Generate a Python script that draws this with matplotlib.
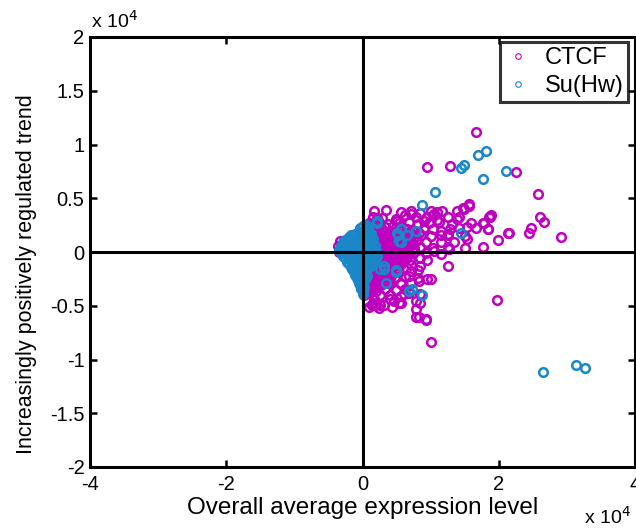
import matplotlib
matplotlib.use("Agg")
import matplotlib.pyplot as plt
from matplotlib.lines import Line2D

plt.rcParams['font.family'] = ['Liberation Sans', 'DejaVu Sans']

# values in units of 10^4
series_names = ["CTCF", "Su(Hw)"]
x_ticks = [-4, -2, 0, 2, 4]
y_ticks = [-2, -1.5, -1, -0.5, 0, 0.5, 1, 1.5, 2]
y_tick_labels = ["-2", "-1.5", "-1", "-0.5", "0", "0.5", "1", "1.5", "2"]

ctcf_points = [
    # dense core, rows
    (0.17, 0.38), (0.34, 0.39), (0.56, 0.37), (0.71, 0.38), (0.85, 0.36), (1.00, 0.38), (1.09, 0.37),
    (1.17, 0.38), (1.38, 0.38), (1.49, 0.40), (1.56, 0.43),
    (0.15, 0.33), (0.29, 0.32), (0.49, 0.31), (0.63, 0.34), (0.78, 0.33), (0.93, 0.32), (1.03, 0.34),
    (1.26, 0.33), (1.41, 0.33), (1.86, 0.33),
    (0.09, 0.27), (0.24, 0.28), (0.38, 0.26), (0.53, 0.27), (0.68, 0.28), (0.82, 0.26), (0.97, 0.27),
    (1.12, 0.28), (1.32, 0.26), (1.59, 0.27), (1.78, 0.27),
    (0.12, 0.24), (0.21, 0.24), (0.33, 0.23), (0.45, 0.24),
    (0.06, 0.21), (0.18, 0.22), (0.29, 0.21), (0.41, 0.20), (0.53, 0.22), (0.65, 0.21), (0.76, 0.20),
    (0.90, 0.22), (1.03, 0.21), (1.15, 0.20), (1.29, 0.21), (1.41, 0.22), (1.54, 0.23), (1.66, 0.22),
    (1.84, 0.21), (2.13, 0.18),
    (0.09, 0.18), (0.16, 0.19), (0.24, 0.18), (0.32, 0.19), (0.39, 0.18), (0.47, 0.19), (0.61, 0.18),
    (0.69, 0.19), (0.83, 0.18),
    (0.06, 0.16), (0.13, 0.15), (0.21, 0.16), (0.28, 0.17), (0.35, 0.15), (0.43, 0.16), (0.50, 0.16),
    (0.57, 0.15), (0.65, 0.17), (0.72, 0.16), (0.79, 0.15), (0.86, 0.16), (1.00, 0.15), (1.15, 0.16),
    (1.25, 0.16), (1.51, 0.15),
    (0.10, 0.13), (0.17, 0.13), (0.24, 0.12), (0.31, 0.13), (0.38, 0.13), (0.45, 0.12), (0.52, 0.13),
    (0.60, 0.13), (0.68, 0.12), (0.75, 0.13),
    (0.06, 0.10), (0.13, 0.11), (0.20, 0.10), (0.27, 0.09), (0.34, 0.10), (0.41, 0.11), (0.48, 0.10),
    (0.55, 0.09), (0.62, 0.10), (0.69, 0.11), (0.78, 0.10), (0.93, 0.09), (1.15, 0.09), (1.34, 0.09),
    (1.54, 0.12), (1.99, 0.11),
    (0.10, 0.07), (0.17, 0.08), (0.24, 0.07), (0.31, 0.08), (0.38, 0.07), (0.45, 0.08), (0.52, 0.07),
    (0.59, 0.08), (0.66, 0.07), (0.73, 0.08),
    (0.06, 0.05), (0.13, 0.04), (0.20, 0.05), (0.27, 0.06), (0.34, 0.04), (0.41, 0.05), (0.48, 0.05),
    (0.55, 0.04), (0.62, 0.05), (0.69, 0.06), (0.76, 0.04), (0.85, 0.05), (1.04, 0.04), (1.26, 0.05),
    (1.51, 0.04), (1.77, 0.05),
    (0.09, 0.02), (0.16, 0.02), (0.23, 0.03), (0.30, 0.02), (0.37, 0.02), (0.44, 0.03), (0.51, 0.02),
    (0.58, 0.02), (0.65, 0.03), (0.72, 0.02),
    (0.12, -0.01), (0.19, 0.00), (0.26, -0.01), (0.33, -0.02), (0.40, -0.01), (0.47, 0.00), (0.54, -0.01),
    (0.61, -0.02), (0.68, -0.01), (0.75, 0.00), (0.93, -0.01), (1.05, 0.01), (1.15, -0.02),
    (0.09, -0.04), (0.16, -0.04), (0.23, -0.05), (0.30, -0.04), (0.37, -0.04), (0.44, -0.05), (0.51, -0.04),
    (0.58, -0.04), (0.65, -0.05),
    (0.12, -0.07), (0.19, -0.06), (0.26, -0.07), (0.33, -0.08), (0.40, -0.07), (0.47, -0.06), (0.54, -0.07),
    (0.61, -0.08), (0.70, -0.07), (0.85, -0.06), (0.95, -0.07),
    (0.06, -0.10), (0.13, -0.09), (0.20, -0.10), (0.27, -0.09), (0.34, -0.10), (0.41, -0.09), (0.48, -0.10),
    (0.55, -0.09),
    (0.09, -0.12), (0.16, -0.13), (0.23, -0.12), (0.30, -0.11), (0.37, -0.12), (0.44, -0.13), (0.51, -0.12),
    (0.56, -0.11), (0.71, -0.12), (0.85, -0.13), (1.25, -0.13),
    (0.03, -0.15), (0.09, -0.15), (0.16, -0.16), (0.23, -0.15), (0.30, -0.15), (0.37, -0.16), (0.44, -0.15),
    (0.50, -0.15),
    (0.05, -0.18), (0.12, -0.17), (0.19, -0.18), (0.26, -0.19), (0.33, -0.18), (0.40, -0.17), (0.47, -0.18),
    (0.53, -0.19), (0.71, -0.18), (0.82, -0.17),
    (0.03, -0.20), (0.09, -0.21), (0.16, -0.20), (0.23, -0.21), (0.30, -0.20), (0.37, -0.21), (0.44, -0.20),
    (0.05, -0.23), (0.12, -0.24), (0.19, -0.23), (0.26, -0.22), (0.33, -0.23), (0.40, -0.24), (0.47, -0.23),
    (0.63, -0.22), (0.82, -0.24), (1.00, -0.25), (0.95, -0.25), (0.83, -0.27), (0.68, -0.22),
    (0.03, -0.26), (0.09, -0.26), (0.16, -0.27), (0.23, -0.26), (0.30, -0.26), (0.37, -0.25),
    (0.02, -0.29), (0.09, -0.28), (0.16, -0.29), (0.23, -0.30), (0.30, -0.29), (0.37, -0.28), (0.41, -0.29),
    (0.56, -0.30), (0.71, -0.29),
    (0.05, -0.32), (0.12, -0.31), (0.19, -0.32), (0.27, -0.31),
    (0.02, -0.34), (0.09, -0.35), (0.16, -0.34), (0.23, -0.33), (0.33, -0.34), (0.49, -0.35), (0.63, -0.34),
    (0.05, -0.37), (0.12, -0.37), (0.20, -0.36),
    (0.02, -0.40), (0.09, -0.38), (0.16, -0.41), (0.26, -0.40), (0.41, -0.40), (0.56, -0.41), (0.85, -0.39),
    (0.61, -0.39), (0.68, -0.38), (0.17, -0.44), (0.07, -0.38),
    (0.06, -0.46), (0.15, -0.47), (0.26, -0.49), (0.41, -0.44), (0.46, -0.46), (0.53, -0.47), (0.79, -0.46),
    (0.14, -0.49), (0.19, -0.49), (0.31, -0.49), (0.56, -0.47), (0.85, -0.47),
    (0.09, -0.51), (0.24, -0.52), (0.44, -0.51), (0.79, -0.53),
    (0.79, -0.60), (0.83, -0.60), (0.93, -0.62), (0.93, -0.63), (1.01, -0.84),
    # left of the y axis
    (-0.36, 0.06), (-0.35, 0.00), (-0.33, 0.10),
    # scattered rings
    (1.67, 1.12), (1.28, 0.80), (0.95, 0.79), (2.26, 0.74), (2.58, 0.54), (2.61, 0.33), (2.66, 0.28),
    (2.47, 0.22), (2.45, 0.18), (2.92, 0.14), (2.15, 0.18), (1.87, 0.33), (1.89, 0.34), (1.84, 0.21),
    (1.77, 0.27), (1.57, 0.45), (1.48, 0.41), (1.39, 0.31), (1.25, 0.17), (1.97, -0.45), (1.27, 0.03),
    (1.05, 0.35), (1.10, 0.30), (0.71, 0.35), (0.51, 0.29), (0.22, 0.32), (0.90, 0.29),
]

suhw_points = [
    # dense core, rows
    (0.00, 0.24), (0.05, 0.25),
    (-0.03, 0.22), (0.03, 0.21), (0.08, 0.22),
    (-0.05, 0.19), (0.00, 0.20), (0.05, 0.19), (0.10, 0.18),
    (-0.17, 0.16), (-0.11, 0.17), (-0.05, 0.16), (0.01, 0.17), (0.07, 0.16), (0.12, 0.17),
    (-0.20, 0.14), (-0.14, 0.15), (-0.08, 0.14), (-0.02, 0.13), (0.04, 0.14), (0.10, 0.15), (0.13, 0.13),
    (-0.26, 0.11), (-0.20, 0.12), (-0.14, 0.11), (-0.08, 0.12), (-0.02, 0.11), (0.04, 0.12), (0.10, 0.11),
    (0.15, 0.12),
    (-0.29, 0.09), (-0.23, 0.10), (-0.17, 0.09), (-0.11, 0.08), (-0.05, 0.09), (0.01, 0.10), (0.07, 0.09),
    (0.13, 0.08),
    (-0.31, 0.06), (-0.23, 0.07), (-0.17, 0.06), (-0.11, 0.07), (-0.05, 0.06), (0.01, 0.07), (0.07, 0.06),
    (0.13, 0.07), (0.18, 0.06),
    (-0.32, 0.04), (-0.26, 0.05), (-0.20, 0.04), (-0.14, 0.03), (-0.08, 0.04), (-0.02, 0.05), (0.04, 0.04),
    (0.10, 0.03), (0.16, 0.04),
    (-0.34, 0.02), (-0.28, 0.01), (-0.22, 0.02), (-0.16, 0.01), (-0.10, 0.02), (-0.04, 0.01), (0.02, 0.02),
    (0.08, 0.01), (0.14, 0.02), (0.20, 0.01),
    (-0.31, -0.01), (-0.25, 0.00), (-0.19, -0.01), (-0.13, -0.02), (-0.07, -0.01), (-0.01, 0.00),
    (0.05, -0.01), (0.11, -0.02), (0.17, -0.01),
    (-0.28, -0.04), (-0.22, -0.03), (-0.16, -0.04), (-0.10, -0.03), (-0.04, -0.04), (0.02, -0.03),
    (0.08, -0.04), (0.14, -0.03), (0.22, -0.04),
    (-0.25, -0.06), (-0.19, -0.05), (-0.13, -0.06), (-0.07, -0.07), (-0.01, -0.06), (0.05, -0.05),
    (0.11, -0.06), (0.17, -0.07), (0.20, -0.06),
    (-0.23, -0.09), (-0.17, -0.08), (-0.11, -0.09), (-0.05, -0.08), (0.01, -0.09), (0.07, -0.08),
    (0.13, -0.09), (0.19, -0.08),
    (-0.20, -0.11), (-0.14, -0.12), (-0.08, -0.11), (-0.02, -0.10), (0.04, -0.11), (0.10, -0.12),
    (0.15, -0.11),
    (-0.17, -0.14), (-0.11, -0.13), (-0.05, -0.14), (0.01, -0.13), (0.07, -0.14), (0.12, -0.13),
    (-0.15, -0.16), (-0.09, -0.17), (-0.03, -0.16), (0.03, -0.15), (0.07, -0.16),
    (-0.13, -0.19), (-0.07, -0.18), (-0.01, -0.19), (0.05, -0.18),
    (-0.11, -0.21), (-0.05, -0.22), (0.01, -0.21), (0.05, -0.20),
    (-0.08, -0.24), (-0.02, -0.23), (0.04, -0.24),
    (-0.06, -0.26), (0.00, -0.27), (0.03, -0.25),
    (-0.05, -0.29), (0.01, -0.28),
    (-0.03, -0.31), (0.01, -0.32),
    (-0.02, -0.34), (0.02, -0.33),
    (0.00, -0.36), (0.00, -0.39),
    # scattered rings
    (0.22, 0.27), (0.22, 0.29), (0.56, 0.21), (0.52, 0.16), (0.51, 0.18), (0.66, 0.16), (0.78, 0.20),
    (0.56, 0.09), (0.54, 0.10), (0.87, 0.44), (1.06, 0.56), (1.44, 0.18),
    (0.34, -0.29), (0.49, -0.17), (0.49, -0.19), (0.31, -0.13), (0.31, -0.16), (0.07, -0.22),
    (0.26, -0.16), (0.68, -0.36), (0.73, -0.34), (0.88, -0.40),
    (1.45, 0.78), (1.49, 0.81), (1.70, 0.90), (1.81, 0.94), (2.10, 0.75), (1.77, 0.68),
    (2.65, -1.12), (3.14, -1.05), (3.26, -1.08),
]

ctcf_x = [p[0] for p in ctcf_points]
ctcf_y = [p[1] for p in ctcf_points]
suhw_x = [p[0] for p in suhw_points]
suhw_y = [p[1] for p in suhw_points]

c_ctcf = '#BF00BF'
c_suhw = '#1A87C8'

fig = plt.figure(figsize=(6.36, 5.29), dpi=100)
ax = fig.add_axes([90/636, 1-467/529, 545/636, 430/529])

ax.plot(ctcf_x, ctcf_y, 'o', ls='none', mfc='none', mec=c_ctcf, ms=6.2, mew=1.8, zorder=3)
ax.plot(suhw_x, suhw_y, 'o', ls='none', mfc='none', mec=c_suhw, ms=6.2, mew=1.8, zorder=4)

ax.axhline(0, color='black', lw=2.2, zorder=5)
ax.axvline(0, color='black', lw=2.2, zorder=5)

ax.set_xlim(-4, 4)
ax.set_ylim(-2, 2)
ax.set_xticks(x_ticks)
ax.set_xticklabels([str(t) for t in x_ticks])
ax.set_yticks(y_ticks)
ax.set_yticklabels(y_tick_labels)
ax.tick_params(direction='in', length=5, width=1.8, labelsize=14.5, top=True, right=True)
ax.tick_params(axis='x', pad=6)
ax.tick_params(axis='y', pad=4)
for s in ax.spines.values():
    s.set_linewidth(2.2)

ax.set_xlabel('Overall average expression level', fontsize=17.5)
ax.xaxis.set_label_coords(0.5, -0.07)
ax.set_ylabel('Increasingly positively regulated trend', fontsize=15.5)
ax.yaxis.set_label_coords(-0.097, 0.449)

fig.text(91/636, 1-28/529, r'x 10$^{4}$', fontsize=14, ha='left', va='baseline')
fig.text(584/636, 1-524/529, r'x 10$^{4}$', fontsize=14, ha='left', va='baseline')

handles = [Line2D([], [], marker='o', ls='none', mfc='none', mec=c_ctcf, ms=4, mew=0.8),
           Line2D([], [], marker='o', ls='none', mfc='none', mec=c_suhw, ms=4, mew=0.8)]
leg = ax.legend(handles, series_names, loc='upper right', bbox_to_anchor=(0.988, 0.988),
                fontsize=17, frameon=True, fancybox=False, borderpad=0.2, handlelength=1.1,
                handletextpad=0.6, labelspacing=0.25, borderaxespad=0)
leg.get_frame().set_edgecolor('black')
leg.get_frame().set_linewidth(2.2)
leg.set_zorder(10)

fig.savefig('out.png', dpi=100)
